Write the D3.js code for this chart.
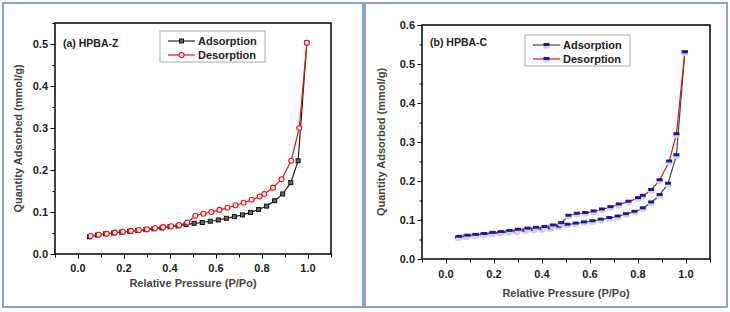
<!DOCTYPE html>
<style>
  body { margin: 0; background: #fff; }
  svg { display: block; font-family: 'Liberation Sans', Arial, sans-serif; font-weight: bold; }
  .frame { fill: none; stroke: #000; stroke-width: 1.5; }
  .tick line { stroke: #000; }
  .ticklbl { fill: #222; font-size: 11px; }
  .title { fill: #444; font-size: 11px; }
</style>
<body>
</body>
<script src="https://cdn.jsdelivr.net/npm/d3@7/dist/d3.min.js"></script>
<script>
  // panel (a) HPBA-Z
  const adsPZ = [0.05, 0.085, 0.12, 0.155, 0.19, 0.225, 0.26, 0.295, 0.33, 0.365, 0.40, 0.435, 0.47, 0.505,
                 0.54, 0.575, 0.61, 0.645, 0.68, 0.715, 0.75, 0.785, 0.82, 0.855, 0.89, 0.925, 0.957, 0.995];
  const adsQZ = [0.041, 0.045, 0.048, 0.050, 0.052, 0.054, 0.056, 0.058, 0.060, 0.062, 0.065, 0.067, 0.070, 0.073,
                 0.075, 0.078, 0.081, 0.085, 0.089, 0.093, 0.099, 0.106, 0.114, 0.127, 0.143, 0.170, 0.222, 0.503];
  const desPZ = [0.995, 0.962, 0.927, 0.885, 0.848, 0.81, 0.79, 0.755, 0.72, 0.685, 0.65, 0.615, 0.58, 0.545,
                 0.51, 0.475, 0.44, 0.405, 0.37, 0.335, 0.30, 0.265, 0.23, 0.195, 0.16, 0.125, 0.09, 0.055];
  const desQZ = [0.503, 0.300, 0.222, 0.178, 0.158, 0.143, 0.137, 0.129, 0.122, 0.116, 0.110, 0.105, 0.100, 0.096,
                 0.091, 0.075, 0.069, 0.066, 0.064, 0.062, 0.059, 0.057, 0.055, 0.053, 0.051, 0.048, 0.046, 0.043];

  // panel (b) HPBA-C
  const adsPC = [0.05, 0.085, 0.12, 0.155, 0.19, 0.225, 0.26, 0.295, 0.33, 0.365, 0.40, 0.435, 0.47, 0.505,
                 0.54, 0.575, 0.61, 0.645, 0.68, 0.715, 0.75, 0.785, 0.82, 0.855, 0.89, 0.925, 0.96, 0.995];
  const adsQC = [0.055, 0.058, 0.061, 0.063, 0.065, 0.067, 0.069, 0.071, 0.073, 0.075, 0.077, 0.079, 0.083, 0.088,
                 0.091, 0.094, 0.097, 0.101, 0.105, 0.109, 0.115, 0.121, 0.130, 0.145, 0.164, 0.193, 0.266, 0.530];
  const desPC = [0.995, 0.96, 0.93, 0.89, 0.855, 0.82, 0.80, 0.76, 0.72, 0.685, 0.65, 0.615, 0.58, 0.545,
                 0.51, 0.48, 0.445, 0.41, 0.375, 0.34, 0.30, 0.265, 0.23, 0.195, 0.16, 0.125, 0.09, 0.055];
  const desQC = [0.530, 0.320, 0.250, 0.202, 0.177, 0.162, 0.156, 0.147, 0.140, 0.133, 0.127, 0.122, 0.118, 0.116,
                 0.111, 0.092, 0.086, 0.082, 0.080, 0.078, 0.075, 0.072, 0.069, 0.067, 0.064, 0.062, 0.060, 0.057];

  const xTicks = [0.0, 0.2, 0.4, 0.6, 0.8, 1.0];
  const yTicksZ = [0.0, 0.1, 0.2, 0.3, 0.4, 0.5];
  const yTicksC = [0.0, 0.1, 0.2, 0.3, 0.4, 0.5, 0.6];
  const seriesNames = ['Adsorption', 'Desorption'];

  const W = 730, H = 312;
  const svg = d3.select('body').append('svg').attr('width', W).attr('height', H);

  // light blue panel borders
  svg.append('rect').attr('x', 3).attr('y', 3).attr('width', 360).attr('height', 304)
    .attr('fill', 'none').attr('stroke', '#86a4d0').attr('stroke-width', 2);
  svg.append('rect').attr('x', 365).attr('y', 3).attr('width', 362).attr('height', 304)
    .attr('fill', 'none').attr('stroke', '#86a4d0').attr('stroke-width', 2);

  const squareMark = (sel, color) => sel.append('rect')
    .attr('x', -2).attr('y', -2).attr('width', 4).attr('height', 4)
    .attr('fill', '#666').attr('stroke', color).attr('stroke-width', 1);
  const circleMark = (sel, color) => sel.append('circle')
    .attr('r', 2.5).attr('fill', '#fde8e8').attr('stroke', color).attr('stroke-width', 1.1);
  const dashMark = (sel, color) => {
    sel.append('ellipse').attr('cx', 0).attr('cy', 1.5).attr('rx', 3.5).attr('ry', 2.2).attr('fill', '#d4d0f2');
    sel.append('rect').attr('x', -3).attr('y', -2).attr('width', 6).attr('height', 3).attr('fill', color);
  };

  function panel(o) {
    const x = d3.scaleLinear().domain([-0.1, 1.1]).range([o.l, o.r]);
    const y = d3.scaleLinear().domain([0, o.ymax]).range([o.b, o.t]);
    const g = svg.append('g');

    // bottom axis
    g.append('g').attr('class', 'tick')
      .attr('transform', `translate(0,${o.b})`)
      .call(d3.axisBottom(x).tickValues(d3.range(-0.1, 1.11, 0.1).map(v => +v.toFixed(1)))
        .tickSize(3.5).tickSizeOuter(0).tickFormat(''))
      .call(a => a.select('.domain').remove());
    g.append('g').attr('class', 'tick')
      .attr('transform', `translate(0,${o.b})`)
      .call(d3.axisBottom(x).tickValues(xTicks).tickSize(4.5).tickSizeOuter(0).tickFormat(''))
      .call(a => a.select('.domain').remove());
    g.selectAll('.xl').data(xTicks).join('text').attr('class', 'ticklbl')
      .attr('x', d => x(d)).attr('y', o.b + o.xlOff).attr('text-anchor', 'middle')
      .text(d3.format('.1f'));

    // left axis
    g.append('g').attr('class', 'tick')
      .attr('transform', `translate(${o.l},0)`)
      .call(d3.axisLeft(y).tickValues(d3.range(0, o.ymax + 0.001, 0.05)).tickSize(2.5).tickSizeOuter(0).tickFormat(''))
      .call(a => a.select('.domain').remove());
    g.append('g').attr('class', 'tick')
      .attr('transform', `translate(${o.l},0)`)
      .call(d3.axisLeft(y).tickValues(o.yTicks).tickSize(4.5).tickSizeOuter(0).tickFormat(''))
      .call(a => a.select('.domain').remove());
    g.selectAll('.yl').data(o.yTicks).join('text').attr('class', 'ticklbl')
      .attr('x', o.l - 7).attr('y', d => y(d) + 4).attr('text-anchor', 'end')
      .text(d3.format('.1f'));

    g.append('rect').attr('class', 'frame')
      .attr('x', o.l).attr('y', o.t).attr('width', o.r - o.l).attr('height', o.b - o.t);

    // axis titles
    g.append('text').attr('class', 'title').attr('text-anchor', 'middle')
      .attr('x', (o.l + o.r) / 2).attr('y', o.xtY).text('Relative Pressure (P/Po)');
    g.append('text').attr('class', 'title').attr('text-anchor', 'middle')
      .attr('transform', `translate(${o.ytX},${(o.t + o.b) / 2}) rotate(-90)`)
      .text('Quantity Adsorbed (mmol/g)');

    g.append('text').attr('class', 'title').style('font-size', '10.5px').style('fill', '#222')
      .attr('x', o.l + 8).attr('y', o.lblY).text(o.label);

    const line = d3.line().x(d => x(d[0])).y(d => y(d[1]));
    o.series.forEach(s => {
      const pts = d3.zip(s.p, s.q);
      g.append('path').datum(pts).attr('d', line)
        .attr('fill', 'none').attr('stroke', s.line).attr('stroke-width', 1.2);
      g.append('g').selectAll('g').data(pts).join('g')
        .attr('transform', d => `translate(${x(d[0])},${y(d[1])})`)
        .each(function () { s.mark(d3.select(this), s.markColor); });
    });

    // legend
    const lg = g.append('g').attr('transform', `translate(${o.lg[0]},${o.lg[1]})`);
    lg.append('rect').attr('width', 105).attr('height', 31)
      .attr('fill', '#fff').attr('stroke', '#aaa').attr('stroke-width', 1);
    o.series.forEach((s, i) => {
      const row = lg.append('g').attr('transform', `translate(0,${10 + i * 14})`);
      row.append('line').attr('x1', 8).attr('x2', 35).attr('stroke', s.line).attr('stroke-width', 1.2);
      s.mark(row.append('g').attr('transform', 'translate(21.5,0)'), s.markColor);
      row.append('text').attr('x', 38).attr('y', 4).style('font-size', '11px').attr('fill', '#222')
        .text(seriesNames[i]);
    });
  }

  panel({
    l: 55, r: 331, t: 23, b: 254, ymax: 0.55, yTicks: yTicksZ,
    xlOff: 18, xtY: 287, ytX: 22, lblY: 47, label: '(a) HPBA-Z', lg: [160, 31],
    series: [
      {p: adsPZ, q: adsQZ, line: '#222', mark: squareMark, markColor: '#111'},
      {p: desPZ, q: desQZ, line: '#e3121b', mark: circleMark, markColor: '#e3121b'}
    ]
  });

  panel({
    l: 422, r: 710, t: 25, b: 259, ymax: 0.6, yTicks: yTicksC,
    xlOff: 19, xtY: 297, ytX: 385, lblY: 46, label: '(b) HPBA-C', lg: [525, 35],
    series: [
      {p: adsPC, q: adsQC, line: '#444', mark: dashMark, markColor: '#1c1c8f'},
      {p: desPC, q: desQC, line: '#e3121b', mark: dashMark, markColor: '#1c1c8f'}
    ]
  });
</script>
